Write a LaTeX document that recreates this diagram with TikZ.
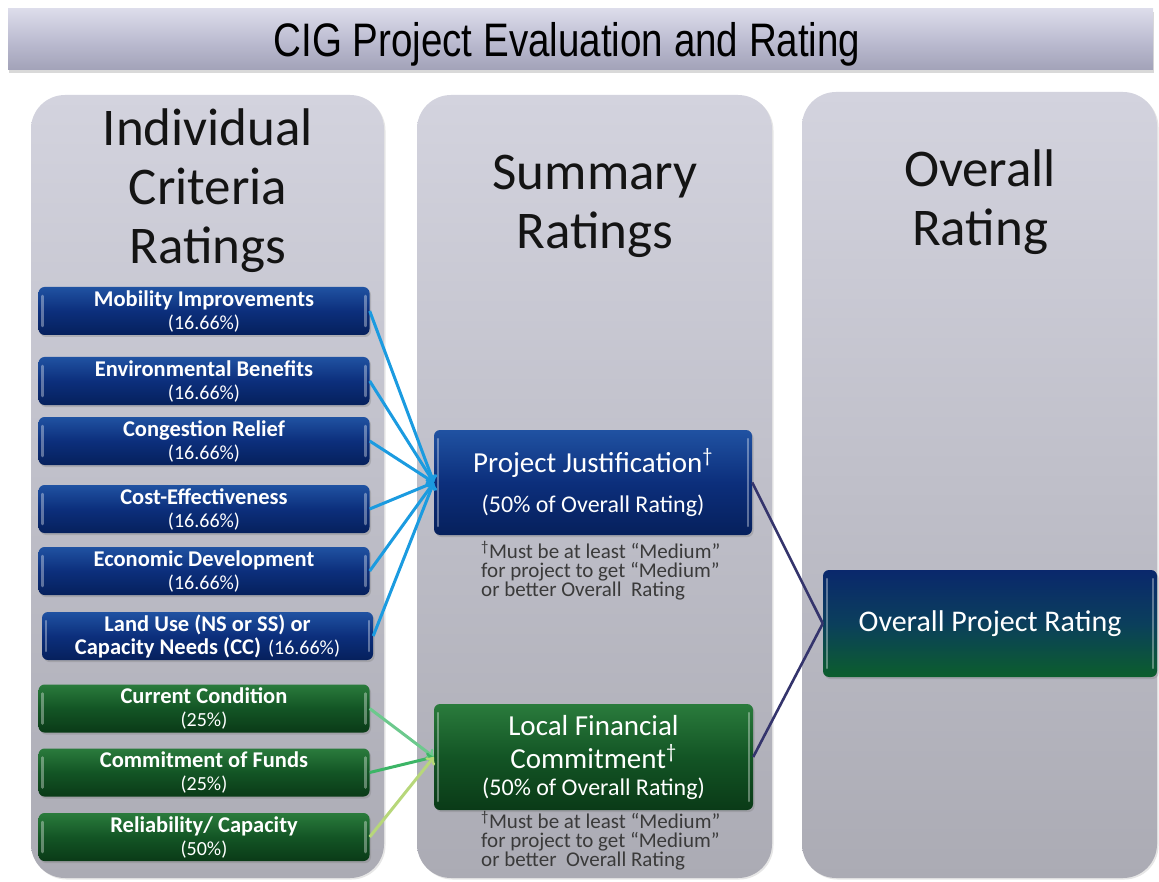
\documentclass[tikz,border=0pt]{standalone}
\usepackage{fontspec}
\setmainfont{Carlito}
\newfontfamily\titlefont[FakeStretch=0.82]{Liberation Sans}
\usetikzlibrary{shadows}

\definecolor{paneltop}{HTML}{D3D3DE}
\definecolor{panelbot}{HTML}{ABABB4}
\definecolor{bartop}{HTML}{DCDCEA}
\definecolor{barmid}{HTML}{BDBDD2}
\definecolor{barbot}{HTML}{A2A2B8}
\definecolor{bluetop}{HTML}{2052A2}
\definecolor{bluemid}{HTML}{0C2F7C}
\definecolor{bluebot}{HTML}{06205C}
\definecolor{greentop}{HTML}{2A7B3C}
\definecolor{greenmid}{HTML}{135525}
\definecolor{greenbot}{HTML}{0A3A17}
\definecolor{ovtop}{HTML}{0A286C}
\definecolor{ovmid}{HTML}{0B3F5C}
\definecolor{ovbot}{HTML}{0C5E2C}
\definecolor{critline}{HTML}{1B9BE0}
\definecolor{sumline}{HTML}{34346C}
\definecolor{condline}{HTML}{6CC98D}
\definecolor{fundline}{HTML}{3CB566}
\definecolor{relline}{HTML}{B7D77A}
\definecolor{notegrey}{HTML}{3A3A3A}

\newcommand\crittl[1]{{\fontsize{22.5}{23}\selectfont\bfseries #1}}
\newcommand\tightlines{\lineskiplimit=-30pt\relax}

\tikzset{
  column/.style={rounded corners=34pt,top color=paneltop,bottom color=panelbot,
    drop shadow={opacity=0.2,shadow xshift=1.5pt,shadow yshift=-1.5pt}},
  bevel/.style={path picture={
    \draw[white,opacity=0.35,line width=2.5pt,line cap=round]
      ([xshift=4pt,yshift=-9pt]path picture bounding box.north west) --
      ([xshift=4pt,yshift=9pt]path picture bounding box.south west);
    \draw[white,opacity=0.35,line width=2.5pt,line cap=round]
      ([xshift=-4pt,yshift=-9pt]path picture bounding box.north east) --
      ([xshift=-4pt,yshift=9pt]path picture bounding box.south east);}},
  ratebox/.style={rounded corners=6pt,inner sep=0pt,align=center,text=white,bevel,
    drop shadow={opacity=0.35,shadow xshift=1.5pt,shadow yshift=-2pt}},
  blue box/.style={ratebox,top color=bluetop,bottom color=bluebot,middle color=bluemid},
  green box/.style={ratebox,top color=greentop,bottom color=greenbot,middle color=greenmid},
  crit/.style={minimum width=331pt,minimum height=48pt,font=\fontsize{20}{23}\selectfont},
  head/.style={align=center,font=\fontsize{53}{59}\selectfont,text=black!92},
  note/.style={align=left,anchor=north west,inner sep=0pt,text=notegrey,
    font=\fontsize{21}{19}\selectfont\tightlines},
}

\begin{document}
\begin{tikzpicture}[x=1pt,y=-1pt]
\useasboundingbox (0,0) rectangle (1159,882);

% title bar
\path[top color=bartop,bottom color=barbot,middle color=barmid,
  drop shadow={opacity=0.3,shadow xshift=1pt,shadow yshift=-3pt}] (8,9) rectangle (1153,70);
\node[anchor=base,font=\titlefont\fontsize{47}{50}\selectfont] (title) at (567,57) {CIG Project Evaluation and Rating};

% three columns
\path[column] (31,95) rectangle (384,878);
\path[column] (417,95) rectangle (772,878);
\path[column] (802,92) rectangle (1157,878);

\node[head] (crit head) at (208,191) {Individual\\Criteria\\Ratings};
\node[head] (sum head) at (595,206) {Summary\\Ratings};
\node[head] (ov head) at (980,202) {Overall\\Rating};

% individual criteria
\foreach \nm/\y/\ttl in {mob/311/Mobility Improvements, env/381/Environmental Benefits,
    cong/441/Congestion Relief, cost/509/Cost-Effectiveness, econ/571/Economic Development}
  \node[blue box,crit] (\nm) at (204,\y) {\crittl{\ttl}\\(16.66\%)};
\node[blue box,crit] (land) at (207.5,636)
  {\crittl{Land Use (NS or SS) or}\\\crittl{Capacity Needs (CC)}\hspace{7pt}(16.66\%)};

\foreach \nm/\y/\ttl/\pct in {cond/708.5/{Current Condition}/25,
    funds/772.5/{Commitment of Funds}/25, rel/837/{Reliability/ Capacity}/50}
  \node[green box,crit] (\nm) at (204,\y) {\crittl{\ttl}\\(\pct\%)};

% summary ratings
\node[blue box,minimum width=318pt,minimum height=105pt,font=\fontsize{29}{34}\selectfont] (pj) at (593,482.5)
  {Project Justification\textsuperscript{†}\\[6pt]{\fontsize{24}{34}\selectfont (50\% of Overall Rating)}};
\node[note] (pj note) at (481,541)
  {\textsuperscript{†}Must be at least “Medium”\\for project to get “Medium”\\or better Overall\ \ Rating};

\node[green box,minimum width=319pt,minimum height=106pt,font=\fontsize{29}{33}\selectfont] (lfc) at (593.5,757)
  {Local Financial\\Commitment\textsuperscript{†}\\[-6pt]{\fontsize{24}{33}\selectfont (50\% of Overall Rating)}};
\node[note] (lfc note) at (481,811)
  {\textsuperscript{†}Must be at least “Medium”\\for project to get “Medium”\\or better\ \ Overall Rating};

% overall rating
\node[ratebox,top color=ovtop,bottom color=ovbot,middle color=ovmid,minimum width=334pt,minimum height=107pt,
  font=\fontsize{30}{34}\selectfont] (opr) at (990,623.5) {Overall Project Rating};

% connectors
\foreach \nm in {mob,env,cong,cost,econ,land}
  \draw[critline,line width=3pt,->] (\nm.east) -- (pj.west);
\foreach \nm/\c in {cond/condline,funds/fundline,rel/relline}
  \draw[\c,line width=3pt,->] (\nm.east) -- (lfc.west);
\draw[sumline,line width=2.6pt] (pj.east) -- (opr.west);
\draw[sumline,line width=2.6pt] (lfc.east) -- (opr.west);
\end{tikzpicture}
\end{document}
